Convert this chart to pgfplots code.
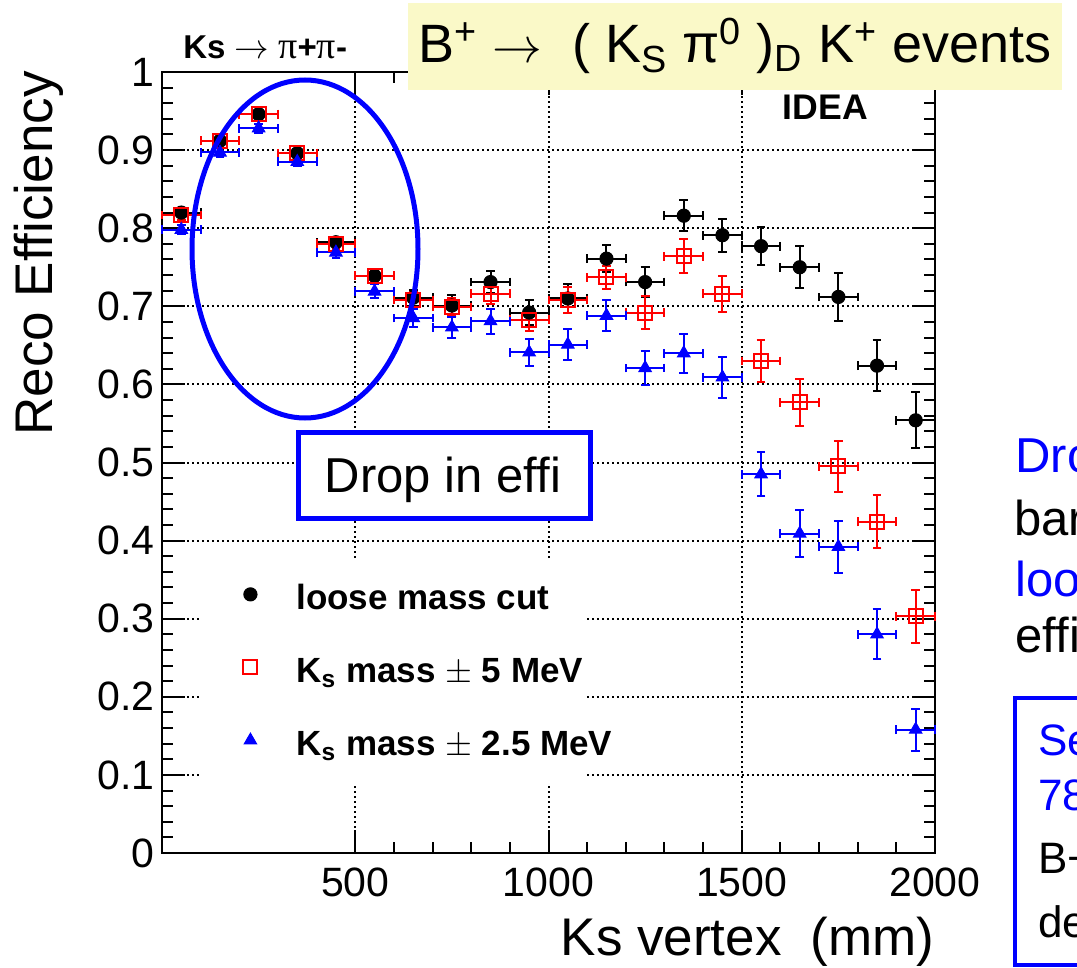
\documentclass[border=0pt]{standalone}
\usepackage{pgfplots}
\pgfplotsset{compat=1.18}
\usepackage{pgfplotstable}
\usepackage{fontspec}
\setmainfont{Liberation Sans}
\newfontfamily\greekserif{Liberation Serif}
\definecolor{notebg}{RGB}{250,249,200}

% Reconstruction efficiency per 100 mm bin of the Ks decay vertex
\pgfplotstableread{
x    ex  y      ey
50   50  0.820  0.006
150  50  0.912  0.006
250  50  0.946  0.005
350  50  0.896  0.006
450  50  0.782  0.007
550  50  0.739  0.008
650  50  0.711  0.010
750  50  0.701  0.013
850  50  0.731  0.014
950  50  0.692  0.016
1050 50  0.710  0.018
1150 50  0.761  0.017
1250 50  0.731  0.019
1350 50  0.816  0.020
1450 50  0.791  0.021
1550 50  0.777  0.024
1650 50  0.750  0.027
1750 50  0.712  0.031
1850 50  0.624  0.033
1950 50  0.554  0.036
}\loosecut

\pgfplotstableread{
x    ex  y      ey
50   50  0.817  0.006
150  50  0.912  0.006
250  50  0.946  0.005
350  50  0.896  0.006
450  50  0.780  0.007
550  50  0.739  0.008
650  50  0.708  0.010
750  50  0.699  0.012
850  50  0.716  0.013
950  50  0.683  0.015
1050 50  0.708  0.017
1150 50  0.737  0.015
1250 50  0.692  0.021
1350 50  0.764  0.022
1450 50  0.716  0.023
1550 50  0.630  0.027
1650 50  0.577  0.030
1750 50  0.495  0.033
1850 50  0.424  0.034
1950 50  0.303  0.034
}\fivemev

\pgfplotstableread{
x    ex  y      ey
50   50  0.798  0.006
150  50  0.897  0.006
250  50  0.928  0.006
350  50  0.885  0.006
450  50  0.769  0.007
550  50  0.719  0.009
650  50  0.685  0.011
750  50  0.673  0.013
850  50  0.681  0.016
950  50  0.641  0.017
1050 50  0.651  0.020
1150 50  0.688  0.020
1250 50  0.621  0.022
1350 50  0.640  0.025
1450 50  0.609  0.026
1550 50  0.485  0.028
1650 50  0.409  0.030
1750 50  0.392  0.033
1850 50  0.280  0.032
1950 50  0.158  0.027
}\twofivemev

\begin{document}
\begin{tikzpicture}[x=0.5pt,y=-0.5pt]
\useasboundingbox (0,0) rectangle (1077,968);
\clip (0,0) rectangle (1077,968);

\begin{axis}[
  at={(81pt,-426.5pt)}, anchor=south west,
  scale only axis, width=386.5pt, height=390.5pt,
  xmin=0, xmax=2000, ymin=0, ymax=1,
  xtick={500,1000,1500,2000}, minor x tick num=4,
  ytick={0,0.1,0.2,0.3,0.4,0.5,0.6,0.7,0.8,0.9,1},
  yticklabels={0,0.1,0.2,0.3,0.4,0.5,0.6,0.7,0.8,0.9,1},
  minor y tick num=4,
  tick align=inside, tick pos=both,
  major tick length=11.5pt, minor tick length=5.5pt,
  tick style={black, line width=1pt},
  axis line style={line width=1.4pt},
  grid=major,
  major grid style={black, line width=1pt, dash pattern=on 1pt off 1.5pt},
  /pgf/number format/assume math mode=true,
  /pgf/number format/1000 sep={},
  tick label style={font=\fontsize{20.5}{24}\selectfont},
  xticklabel style={inner ysep=7pt},
  yticklabel style={inner xsep=3.5pt},
  clip=false,
  legend cell align=left,
  legend image post style={yshift=3pt},
  legend style={at={(0.0492,0.3752)}, anchor=north west, draw=none, fill=none,
    inner xsep=21.5pt, inner ysep=9.5pt,
    font=\bfseries\fontsize{17.5}{20}\selectfont,
    row sep=15.5pt, column sep=17.5pt,
    nodes={inner sep=2pt, text height=13pt, text depth=4pt}},
  error bars/error mark=|,
]
% white panel behind the legend
\fill[white] (axis cs:98.3,0.375) rectangle (axis cs:1100,0.086);

\addplot[only marks, black, mark=*, mark size=3.3pt,
  mark options={fill=black, line width=0.5pt},
  error bars/.cd, x dir=both, x explicit, y dir=both, y explicit,
  error bar style={line width=1pt, black},
  error mark options={line width=1pt, mark size=2.2pt, black}]
  table[x=x, y=y, x error=ex, y error=ey] {\loosecut};
\addlegendentry{loose mass cut}

\addplot[only marks, red, mark=square, mark size=3.5pt,
  mark options={line width=1pt},
  error bars/.cd, x dir=both, x explicit, y dir=both, y explicit,
  error bar style={line width=1pt, red},
  error mark options={line width=1pt, mark size=2.2pt, red}]
  table[x=x, y=y, x error=ex, y error=ey] {\fivemev};
\addlegendentry{K\textsubscript{s} mass {\mdseries$\pm$} 5 MeV}

\addplot[only marks, blue, mark=triangle*, mark size=3.6pt,
  mark options={fill=blue, line width=0.5pt},
  error bars/.cd, x dir=both, x explicit, y dir=both, y explicit,
  error bar style={line width=1pt, blue},
  error mark options={line width=1pt, mark size=2.2pt, blue}]
  table[x=x, y=y, x error=ex, y error=ey] {\twofivemev};
\addlegendentry{K\textsubscript{s} mass {\mdseries$\pm$} 2.5 MeV}
\end{axis}

% axis titles
\node[rotate=90, anchor=base, inner sep=0pt, font=\fontsize{26.5}{30}\selectfont] at (53,253.5) {Reco Efficiency};
\node[anchor=base east, inner sep=0pt, font=\fontsize{26.5}{30}\selectfont] at (935,955) {Ks vertex\ \ (mm)};
\node[anchor=base west, inner sep=0pt, font=\fontsize{16.5}{19}\selectfont] at (183,59)
  {\textbf{Ks}\ $\rightarrow$\ {\fontsize{19}{21}\selectfont\greekserif π}\textbf{+}{\fontsize{19}{21}\selectfont\greekserif π}\textbf{-}};
\node[font=\bfseries\fontsize{17.8}{20}\selectfont] at (825.5,107.5) {IDEA};

% decay channel banner
\fill[notebg] (408,3) rectangle (1062,90);
\node[anchor=base west, inner sep=0pt, font=\fontsize{27}{31}\selectfont] at (418,63)
  {B\textsuperscript{+}\ $\rightarrow$\ \ ( K\textsubscript{S} π\textsuperscript{0} )\textsubscript{D} K\textsuperscript{+} events};

% low-radius region and its annotation
\draw[blue, line width=2.5pt] (305,249) ellipse [x radius=56.5pt, y radius=84.5pt];
\draw[blue, line width=2.5pt, fill=white] (298,432) rectangle (590,518);
\node[anchor=base, inner sep=0pt, font=\fontsize{24.5}{28}\selectfont] at (443,492) {Drop in effi};

% side notes
\begin{scope}[font=\fontsize{24.5}{28}\selectfont]
\node[anchor=base west, inner sep=0pt, blue] at (1015,473) {Drop in efficiency};
\node[anchor=base west, inner sep=0pt] at (1014,535) {barrel};
\node[anchor=base west, inner sep=0pt, blue] at (1015,596) {loose};
\node[anchor=base west, inner sep=0pt] at (1015,652) {efficiency};
\end{scope}
\draw[blue, line width=2.3pt] (1015,698) rectangle (1300,965);
\begin{scope}[font=\fontsize{22}{26}\selectfont]
\node[anchor=base west, inner sep=0pt, blue] at (1038,755) {Selected};
\node[anchor=base west, inner sep=0pt, blue] at (1038,810) {78\%};
\node[anchor=base west, inner sep=0pt] at (1038,873) {B+ decays};
\node[anchor=base west, inner sep=0pt] at (1038,937) {decays};
\end{scope}
\end{tikzpicture}
\end{document}
